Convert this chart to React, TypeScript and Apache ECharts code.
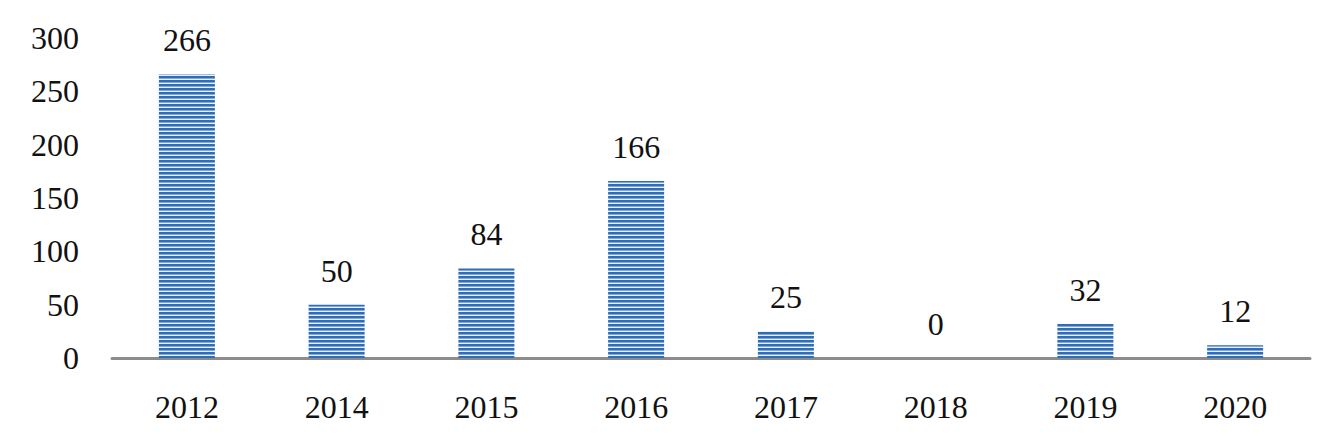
import React, { useEffect, useRef } from "react";
import * as echarts from "echarts";

const categories = ["2012", "2014", "2015", "2016", "2017", "2018", "2019", "2020"];
const values = [266, 50, 84, 166, 25, 0, 32, 12];
const yTicks = [0, 50, 100, 150, 200, 250, 300];

function makeStripes(): HTMLCanvasElement {
  const c = document.createElement("canvas");
  c.width = 8;
  c.height = 4;
  const ctx = c.getContext("2d")!;
  ctx.fillStyle = "#e8f1fb";
  ctx.fillRect(0, 0, 8, 4);
  ctx.fillStyle = "#2f6db5";
  ctx.fillRect(0, 0, 8, 2);
  ctx.fillStyle = "#7fa9da";
  ctx.fillRect(0, 2, 8, 1);
  return c;
}

export default function App() {
  const ref = useRef<HTMLDivElement>(null);
  useEffect(() => {
    if (!ref.current) return;
    const chart = echarts.init(ref.current, undefined, { renderer: "svg" });
    const font = "'Liberation Serif', 'Times New Roman', serif";
    chart.setOption({
      animation: false,
      grid: { left: 112, right: 11, top: 38, bottom: 81, containLabel: false },
      xAxis: {
        type: "category",
        data: categories,
        axisLine: { lineStyle: { color: "#8c8c8c", width: 3 } },
        axisTick: { show: false },
        axisLabel: { color: "#111", fontSize: 32, fontFamily: font, margin: 33 },
      },
      yAxis: {
        type: "value",
        min: yTicks[0],
        max: yTicks[yTicks.length - 1],
        interval: 50,
        axisLine: { show: false },
        axisTick: { show: false },
        splitLine: { show: false },
        axisLabel: { color: "#111", fontSize: 32, fontFamily: font, margin: 33 },
      },
      series: [
        {
          type: "bar",
          data: values,
          barWidth: 56,
          itemStyle: {
            color: { image: makeStripes(), repeat: "repeat" },
            borderWidth: 0,
          },
          label: {
            show: true,
            position: "top",
            distance: 18,
            color: "#111",
            fontSize: 32,
            fontFamily: font,
          },
        },
      ],
    });
    return () => chart.dispose();
  }, []);
  return (
    <div
      ref={ref}
      style={{ position: "fixed", left: 0, top: 0, width: 1321, height: 439, background: "#fff" }}
    />
  );
}
